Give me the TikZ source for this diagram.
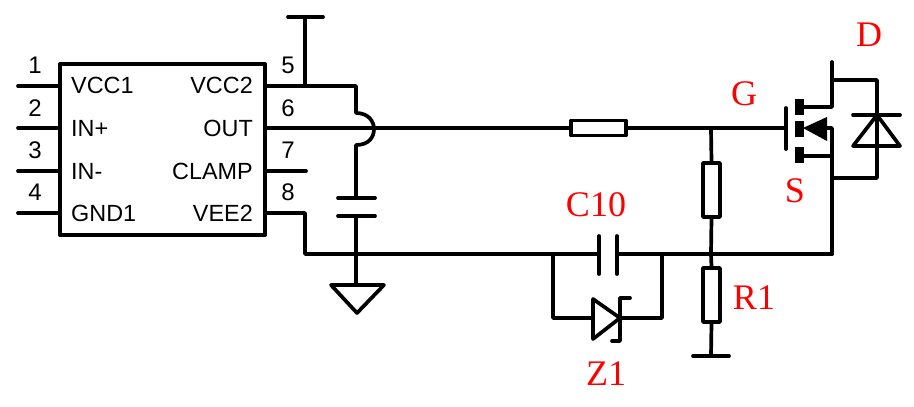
\documentclass[tikz,border=0pt]{standalone}
\usepackage{fontspec}
\setmainfont{Liberation Sans}
\newfontfamily\serifred{Liberation Serif}
\begin{document}
\begin{tikzpicture}[x=1pt,y=-1pt,line cap=round,line join=round,
  wire/.style={line width=3.7pt},
  thinwire/.style={line width=3.2pt},
  ic/.style={draw,line width=4pt,rectangle,minimum width=205pt,minimum height=171pt,inner sep=0pt},
  res/.style={draw,line width=3.4pt,rectangle,inner sep=0pt},
  pinname/.style={font=\fontsize{23.4}{25}\selectfont,inner sep=0pt},
  pinnum/.style={font=\fontsize{24}{25}\selectfont,inner sep=0pt,anchor=base},
  redlabel/.style={font=\fontsize{36}{38}\serifred\selectfont,text=red,inner sep=0pt,anchor=base}]
\useasboundingbox (0,0) rectangle (914,407);
% IC
\node[ic] (IC) at (162.5,149.5) {};
\foreach \n/\t/\y in {a/VCC1/85,b/IN+/128,c/IN-/171,d/GND1/213}
  \node[pinname,anchor=base west] (name\n) at (71,\y+8.5) {\t};
\foreach \n/\t/\y in {e/VCC2/85,f/OUT/128,g/CLAMP/171,h/VEE2/213}
  \node[pinname,anchor=base east] (name\n) at (253,\y+8.5) {\t};
\foreach \n/\x/\y in {1/35/73,2/35/116,3/35/158,4/35/200,5/288/73,6/288/116,7/288/158,8/288/200}
  \node[pinnum] (num\n) at (\x,\y) {\n};
% pins
\foreach \n/\y in {1/86,2/128,3/171,4/213} {
  \coordinate (L\n) at (18,\y);
  \coordinate (LI\n) at (60,\y);
  \draw[wire] (L\n) -- (LI\n);
}
\foreach \n/\y in {5/86,6/128,7/171,8/213}
  \coordinate (RI\n) at (265,\y);
\coordinate (C7) at (306,171);
\draw[wire] (RI7) -- (C7);
% VCC2 rail
\coordinate (vccJ) at (305,86);
\coordinate (vccT) at (305,17);
\coordinate (vccTL) at (288,17);
\coordinate (vccTR) at (323,17);
\coordinate (vccC) at (356,86);
\coordinate (hopA) at (356,113);
\coordinate (hopB) at (356,145);
\coordinate (capT) at (356,198);
\coordinate (capB) at (356,216);
\coordinate (gndJ) at (356,254);
\coordinate (gndT) at (356,285);
\draw[wire] (RI5) -- (vccC) -- (hopA) .. controls (369,113) and (374,122) .. (374,129) .. controls (374,137) and (369,145) .. (hopB) -- (capT);
\draw[wire] (vccJ) -- (vccT);
\draw[wire] (vccTL) -- (vccTR);
\draw[wire] (338,198) -- (375,198);
\draw[wire] (338,216) -- (375,216);
\draw[wire] (capB) -- (gndT);
\draw[wire] (331,285) -- (384,285) -- (357,313) -- cycle;
% gate resistor and net
\node[res,minimum width=55pt,minimum height=15pt] (Rg) at (598.5,128) {};
\coordinate (gJ) at (711,128);
\coordinate (gate) at (786,128);
\draw[thinwire] (RI6) -- (Rg.west);
\draw[thinwire] (Rg.east) -- (gate);
% divider
\node[res,minimum width=17pt,minimum height=54pt] (Rup) at (711.5,190) {};
\node[res,minimum width=17pt,minimum height=54pt] (R1) at (711.5,295) {};
\coordinate (sJ) at (711,254);
\coordinate (R1end) at (711,356);
\draw[wire] (gJ) -- (Rup.north);
\draw[wire] (Rup.south) -- (sJ) -- (R1.north);
\draw[wire] (R1.south) -- (R1end);
\draw[wire] (693,356) -- (729,356);
% VEE2 rail
\coordinate (veeA) at (305,213);
\coordinate (veeB) at (305,254);
\coordinate (c10L) at (599,254);
\coordinate (c10R) at (617,254);
\coordinate (srcB) at (832,254);
\draw[wire] (RI8) -- (veeA) -- (veeB) -- (c10L);
\draw[wire] (c10R) -- (srcB);
\draw[wire] (599,236) -- (599,274);
\draw[wire] (617,236) -- (617,274);
% Zener loop
\coordinate (zL) at (553,254);
\coordinate (zR) at (662,254);
\coordinate (zA) at (593,318);
\coordinate (zK) at (620,318);
\draw[wire] (zL) -- (553,318) -- (zA);
\draw[wire] (zR) -- (662,318) -- (zK);
\draw[wire] (593,299) -- (620,318) -- (593,339) -- cycle;
\draw[wire] (630,298) -- (620,298) -- (620,341) -- (612,341);
% MOSFET
\draw[line width=3.7pt] (786,108) -- (786,149);
\fill (795,99) rectangle (803.5,115);
\fill (795,121) rectangle (803.5,137);
\fill (795,147) rectangle (803.5,163);
\coordinate (dT) at (832,62);
\coordinate (dM) at (832,107);
\coordinate (dJ) at (832,80);
\coordinate (bB) at (832,128);
\coordinate (sM) at (832,156);
\coordinate (sR) at (832,178);
\coordinate (dioT) at (877,80);
\coordinate (dioB) at (877,178);
\draw[wire] (803,107) -- (dM) -- (dT);
\draw[wire] (dJ) -- (dioT) -- (dioB) -- (sR);
\draw[wire] (827,128) -- (bB) -- (srcB);
\draw[wire] (803,156) -- (sM);
\fill (803,128) -- (827,117) -- (827,141) -- cycle;
\draw[wire] (853,115) -- (900,115);
\draw[wire] (877,115) -- (853,146) -- (900,146) -- cycle;
% labels
\node[redlabel] (lC) at (596,216) {C10};
\node[redlabel] (lG) at (744,105) {G};
\node[redlabel] (lD) at (869,46) {D};
\node[redlabel] (lS) at (795,202) {S};
\node[redlabel] (lR) at (754,309) {R1};
\node[redlabel] (lZ) at (606,385) {Z1};
\end{tikzpicture}
\end{document}
